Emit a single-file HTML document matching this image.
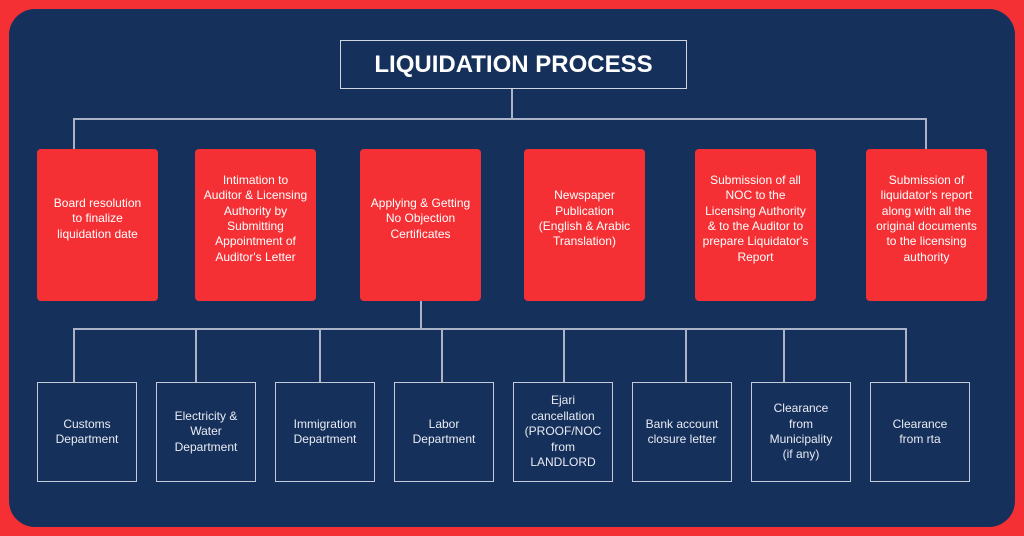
<!DOCTYPE html>
<html><head><style>
*{margin:0;padding:0;box-sizing:border-box}
body{width:1024px;height:536px;background:#f53034;position:relative;overflow:hidden;font-family:"Liberation Sans",sans-serif}
#p{position:absolute;left:9px;top:9px;width:1006px;height:518px;background:#16305c;border-radius:26px}
.l{position:absolute;background:#aab4c6}
.r,.b{position:absolute;display:flex;align-items:center;justify-content:center;text-align:center;color:#fff;font-size:12px;line-height:15.4px;white-space:nowrap}
.r{background:#f53034;border-radius:4px;width:121px;height:152px;top:149px;padding:0 0 12px}
.b{border:1.5px solid #c4cbd8;width:100px;height:100px;top:382px;color:#e8ebf2}
#t{position:absolute;left:340px;top:40px;width:347px;height:49px;border:1.5px solid #d0d6e0;color:#fff;font-weight:bold;font-size:24px;display:flex;align-items:center;justify-content:center}
</style></head><body>
<div id="p"></div>
<div id="t">LIQUIDATION PROCESS</div>
<div class="l" style="left:511px;top:89px;width:1.5px;height:29px"></div>
<div class="l" style="left:73px;top:118px;width:853px;height:1.5px"></div>
<div class="l" style="left:73px;top:118px;width:1.5px;height:31px"></div>
<div class="l" style="left:925px;top:118px;width:1.5px;height:31px"></div>
<div class="r" style="left:37px">Board resolution<br>to finalize<br>liquidation date</div>
<div class="r" style="left:195px">Intimation to<br>Auditor &amp; Licensing<br>Authority by<br>Submitting<br>Appointment of<br>Auditor's Letter</div>
<div class="r" style="left:360px">Applying &amp; Getting<br>No Objection<br>Certificates</div>
<div class="r" style="left:524px">Newspaper<br>Publication<br>(English &amp; Arabic<br>Translation)</div>
<div class="r" style="left:695px">Submission of all<br>NOC to the<br>Licensing Authority<br>&amp; to the Auditor to<br>prepare Liquidator's<br>Report</div>
<div class="r" style="left:866px">Submission of<br>liquidator's report<br>along with all the<br>original documents<br>to the licensing<br>authority</div>
<div class="l" style="left:420px;top:301px;width:1.5px;height:28px"></div>
<div class="l" style="left:73px;top:328px;width:833px;height:1.5px"></div>
<div class="l" style="left:73px;top:328px;width:1.5px;height:54px"></div>
<div class="l" style="left:195px;top:328px;width:1.5px;height:54px"></div>
<div class="l" style="left:319px;top:328px;width:1.5px;height:54px"></div>
<div class="l" style="left:441px;top:328px;width:1.5px;height:54px"></div>
<div class="l" style="left:563px;top:328px;width:1.5px;height:54px"></div>
<div class="l" style="left:685px;top:328px;width:1.5px;height:54px"></div>
<div class="l" style="left:783px;top:328px;width:1.5px;height:54px"></div>
<div class="l" style="left:905px;top:328px;width:1.5px;height:54px"></div>
<div class="b" style="left:37px">Customs<br>Department</div>
<div class="b" style="left:156px">Electricity &amp;<br>Water<br>Department</div>
<div class="b" style="left:275px">Immigration<br>Department</div>
<div class="b" style="left:394px">Labor<br>Department</div>
<div class="b" style="left:513px">Ejari<br>cancellation<br>(PROOF/NOC<br>from<br>LANDLORD</div>
<div class="b" style="left:632px">Bank account<br>closure letter</div>
<div class="b" style="left:751px">Clearance<br>from<br>Municipality<br>(if any)</div>
<div class="b" style="left:870px">Clearance<br>from rta</div>
</body></html>
